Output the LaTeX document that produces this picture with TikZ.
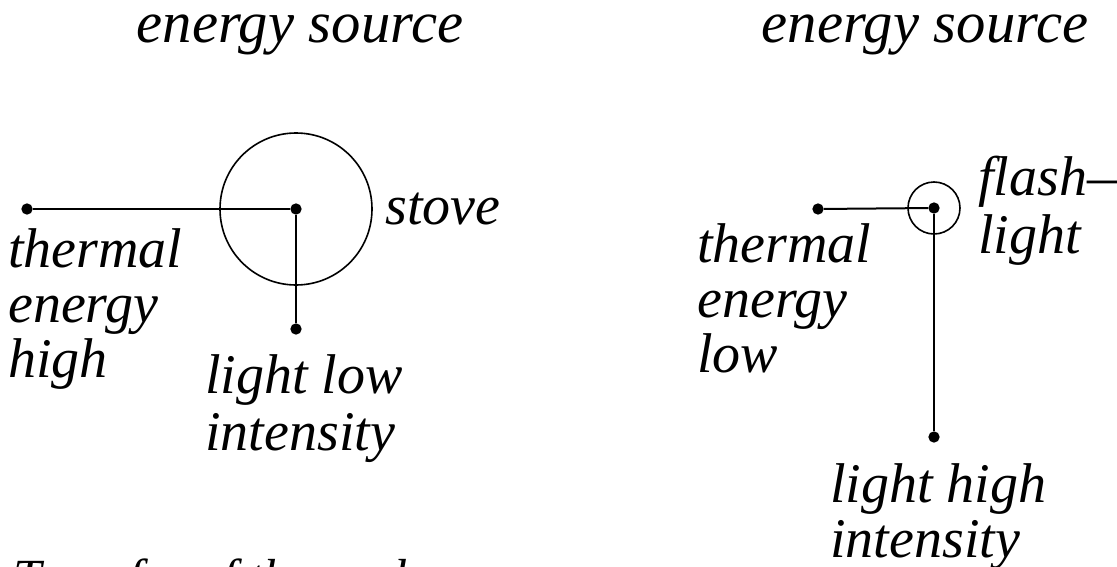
\documentclass[tikz,border=0pt]{standalone}
\usepackage{fontspec}
\setmainfont{Liberation Serif}
\usetikzlibrary{positioning}
\tikzset{
    blackdot/.style={circle, fill=black, inner sep=0pt, minimum size=8.5pt},
    ringnode/.style={circle, draw=black, line width=1.2pt, inner sep=0pt},
    wordlabel/.style={anchor=base west, align=left, inner sep=0pt,
        font=\itshape\fontsize{42}{41.25}\selectfont},
    wireline/.style={line width=1.5pt, black}
}
\begin{document}
\begin{tikzpicture}[x=0.75pt, y=-0.75pt]
    \useasboundingbox (0,0) rectangle (1117,567);
    \clip (0,0) rectangle (1117,567);

    % stove
    \node[ringnode, minimum size=114pt] (stove) at (296,209) {};
    \node[blackdot] (stovec) at (296,209) {};
    \node[blackdot] (stoveth) at (27,209) {};
    \node[blackdot] (stovelt) at (296,329) {};
    \draw[wireline] (stoveth) -- (stovec);
    \draw[wireline] (stovec) -- (stovelt);

    % flashlight
    \node[ringnode, minimum size=39pt] (flash) at (934,208) {};
    \node[blackdot] (flashc) at (934,208) {};
    \node[blackdot] (flashth) at (818,209) {};
    \node[blackdot] (flashlt) at (934,437) {};
    \draw[wireline] (flashth) -- (flashc);
    \draw[wireline] (flashc) -- (flashlt);

    % labels (base = last line)
    \node[wordlabel, anchor=base, font=\itshape\fontsize{44}{44}\selectfont] (srcl) at (300,43) {energy source};
    \node[wordlabel, anchor=base, font=\itshape\fontsize{44}{44}\selectfont] (srcr) at (925,43) {energy source};
    \node[wordlabel] (stovename) at (385,224) {stove};
    \node[wordlabel] (thhigh) at (8,377) {thermal\\energy\\high};
    \node[wordlabel, font=\itshape\fontsize{42}{42.75}\selectfont] (ltlow) at (205,450) {light low\\intensity};
    \node[wordlabel, font=\itshape\fontsize{42}{43.5}\selectfont] (flashname) at (978,253) {flash---\\light};
    \node[wordlabel] (thlow) at (697,372) {thermal\\energy\\low};
    \node[wordlabel] (lthigh) at (830,557) {light high\\intensity};
    \node[wordlabel, font=\itshape\fontsize{38}{40}\selectfont] (caption) at (13,594) {Transfer of thermal energy};
\end{tikzpicture}
\end{document}
